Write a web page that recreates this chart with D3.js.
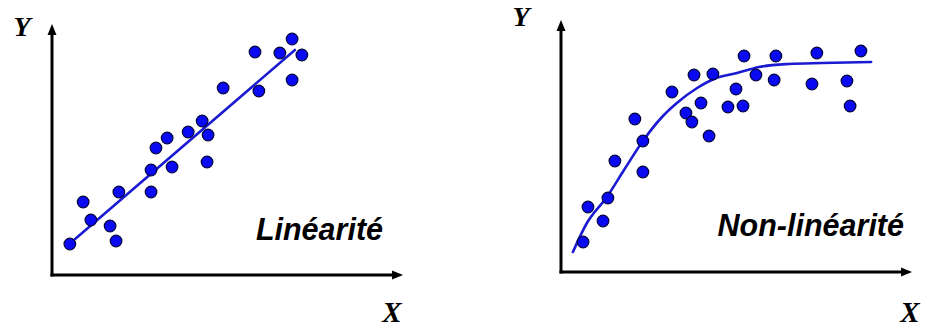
<!DOCTYPE html>
<html>
<head>
<meta charset="utf-8">
<script src="https://cdn.jsdelivr.net/npm/d3@7"></script>
<style>
  html, body { margin: 0; padding: 0; background: #fff; }
  svg { display: block; }
</style>
</head>
<body>
<svg id="chart" width="925" height="329"></svg>
<script>
// Linear panel: scatter points and fitted straight line (arbitrary units 0-10)
const linX = [0.51, 0.89, 1.11, 1.66, 1.83, 1.91, 2.83, 2.83, 2.97, 3.29, 3.43, 3.89, 4.29, 4.43, 4.46, 4.89, 5.80, 5.91, 6.51, 6.86, 6.86, 7.14];
const linY = [1.24, 2.92, 2.20, 1.96, 1.36, 3.32, 3.32, 4.20, 5.08, 5.48, 4.32, 5.72, 6.16, 4.52, 5.60, 7.48, 8.92, 7.36, 8.88, 9.44, 7.80, 8.80];
const linFit = { intercept: 0.645, slope: 1.204, xStart: 0.66, xEnd: 6.94 };

// Non-linear panel: scatter points and the saturating trend curve
const nonX = [0.63, 0.77, 1.20, 1.34, 1.54, 2.11, 2.34, 2.34, 3.17, 3.57, 3.74, 3.80, 4.00, 4.23, 4.34, 4.77, 5.00, 5.20, 5.23, 5.57, 6.09, 6.14, 7.17, 7.31, 8.17, 8.26, 8.57];
const nonY = [1.20, 2.60, 2.04, 2.96, 4.44, 6.12, 5.24, 4.00, 7.20, 6.36, 6.00, 7.88, 6.76, 5.44, 7.92, 6.60, 7.32, 6.64, 8.64, 7.88, 7.68, 8.64, 7.52, 8.76, 7.64, 6.64, 8.84];
const curveX = [0.34, 0.74, 1.31, 1.80, 2.34, 2.86, 3.31, 3.89, 4.37, 5.03, 5.66, 6.51, 7.46, 8.86];
const curveY = [0.80, 1.96, 3.00, 4.08, 5.24, 6.16, 6.76, 7.36, 7.72, 7.96, 8.20, 8.32, 8.36, 8.40];

const axisLabelX = "X";
const axisLabelY = "Y";
const panelTitles = ["Linéarité", "Non-linéarité"];

const svg = d3.select("#chart");

const dotFill = "#0a0af2";
const dotStroke = "#00003a";
const fitColor = "#1a1ad2";

function drawPanel(cfg) {
  const x = d3.scaleLinear().domain([0, 10]).range([cfg.left, cfg.left + 350]);
  const y = d3.scaleLinear().domain([0, 10]).range([cfg.bottom, cfg.bottom - 250]);
  const g = svg.append("g");

  // Axes with arrowheads
  const x0 = x(0), y0 = y(0);
  const xTip = x(cfg.xMax), yTip = y(cfg.yMax);
  g.append("line").attr("x1", x0).attr("y1", y0 + 1.5).attr("x2", x0).attr("y2", yTip + 8)
    .attr("stroke", "#000").attr("stroke-width", 3);
  g.append("line").attr("x1", x0 - 1.5).attr("y1", y0).attr("x2", xTip - 8).attr("y2", y0)
    .attr("stroke", "#000").attr("stroke-width", 3);
  g.append("path")
    .attr("d", `M${x0},${yTip} L${x0 - 4.5},${yTip + 11} L${x0 + 4.5},${yTip + 11} Z`)
    .attr("fill", "#000");
  g.append("path")
    .attr("d", `M${xTip},${y0} L${xTip - 11},${y0 - 4.5} L${xTip - 11},${y0 + 4.5} Z`)
    .attr("fill", "#000");

  // Axis letters
  g.append("text").attr("x", cfg.yLabel[0]).attr("y", cfg.yLabel[1])
    .attr("text-anchor", "middle")
    .style("font-family", "'Liberation Serif', 'Times New Roman', serif")
    .style("font-weight", "bold").style("font-style", "italic").style("font-size", "28px")
    .text(axisLabelY);
  g.append("text").attr("x", cfg.xLabel[0]).attr("y", cfg.xLabel[1])
    .attr("text-anchor", "middle")
    .style("font-family", "'Liberation Serif', 'Times New Roman', serif")
    .style("font-weight", "bold").style("font-style", "italic").style("font-size", "29px")
    .text(axisLabelX);

  // Trend
  g.append("path")
    .datum(cfg.trend)
    .attr("d", d3.line().x(d => x(d[0])).y(d => y(d[1])).curve(cfg.curve))
    .attr("fill", "none").attr("stroke", fitColor).attr("stroke-width", 2.6)
    .attr("stroke-linecap", "round");

  // Points
  g.selectAll("circle.pt")
    .data(cfg.points)
    .join("circle")
    .attr("class", "pt")
    .attr("cx", d => x(d[0])).attr("cy", d => y(d[1]))
    .attr("r", 5.8)
    .attr("fill", dotFill).attr("stroke", dotStroke).attr("stroke-width", 1.2);

  // Panel title
  g.append("text").attr("x", cfg.title[0]).attr("y", cfg.title[1])
    .attr("text-anchor", "end")
    .style("font-family", "'Liberation Sans', Arial, sans-serif")
    .style("font-weight", "bold").style("font-style", "italic").style("font-size", "30.5px")
    .attr("fill", "#000")
    .text(cfg.titleText);
}

drawPanel({
  left: 52, bottom: 275, xMax: 10.03, yMax: 10.04,
  points: linX.map((v, i) => [v, linY[i]]),
  trend: [linFit.xStart, linFit.xEnd].map(v => [v, linFit.intercept + linFit.slope * v]),
  curve: d3.curveLinear,
  yLabel: [22, 36], xLabel: [392, 322],
  title: [383, 240], titleText: panelTitles[0]
});

drawPanel({
  left: 561, bottom: 272, xMax: 10.03, yMax: 10.08,
  points: nonX.map((v, i) => [v, nonY[i]]),
  trend: curveX.map((v, i) => [v, curveY[i]]),
  curve: d3.curveMonotoneX,
  yLabel: [521, 26], xLabel: [910, 322],
  title: [904, 236], titleText: panelTitles[1]
});
</script>
</body>
</html>
